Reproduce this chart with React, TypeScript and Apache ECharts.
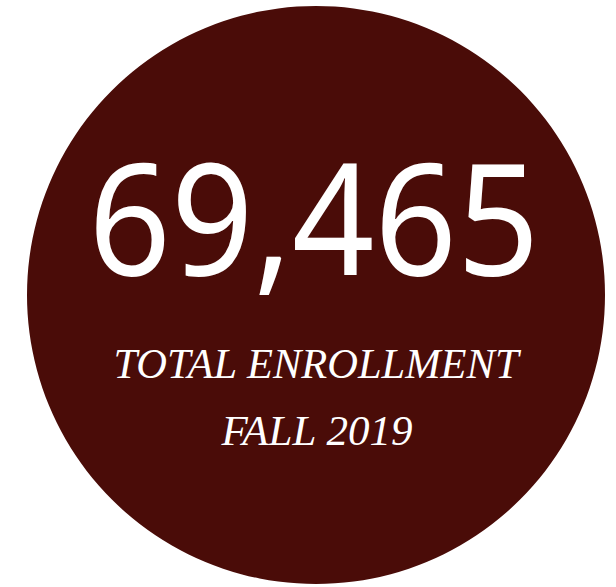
import React, { useEffect, useRef } from "react";
import * as echarts from "echarts";

const totalEnrollment = [69465];
const labelLines = ["TOTAL ENROLLMENT", "FALL 2019"];

export default function App() {
  const ref = useRef<HTMLDivElement>(null);
  useEffect(() => {
    document.body.style.margin = "0";
    const chart = echarts.init(ref.current!, undefined, { renderer: "svg" });
    const cx = 316;
    const cy = 295;
    const r = 289;
    chart.setOption({
      animation: false,
      backgroundColor: "#ffffff",
      graphic: [
        {
          type: "circle",
          shape: { cx, cy, r },
          style: { fill: "#4a0c08" },
        },
        {
          type: "text",
          x: 314,
          y: 215,
          scaleX: 0.93,
          style: {
            text: totalEnrollment[0].toLocaleString("en-US"),
            fill: "#ffffff",
            font: '155px "Noto Sans", "Open Sans", sans-serif',
            align: "center",
            verticalAlign: "middle",
          },
        },
        {
          type: "text",
          x: 316,
          y: 363,
          style: {
            text: labelLines[0],
            fill: "#ffffff",
            font: 'italic 42.5px "Liberation Serif", "Times New Roman", serif',
            align: "center",
            verticalAlign: "middle",
          },
        },
        {
          type: "text",
          x: 317,
          y: 430,
          style: {
            text: labelLines[1],
            fill: "#ffffff",
            font: 'italic 43px "Liberation Serif", "Times New Roman", serif',
            align: "center",
            verticalAlign: "middle",
          },
        },
      ],
    });
    return () => chart.dispose();
  }, []);
  return (
    <div
      ref={ref}
      style={{ position: "absolute", left: 0, top: 0, width: 616, height: 587 }}
    />
  );
}
